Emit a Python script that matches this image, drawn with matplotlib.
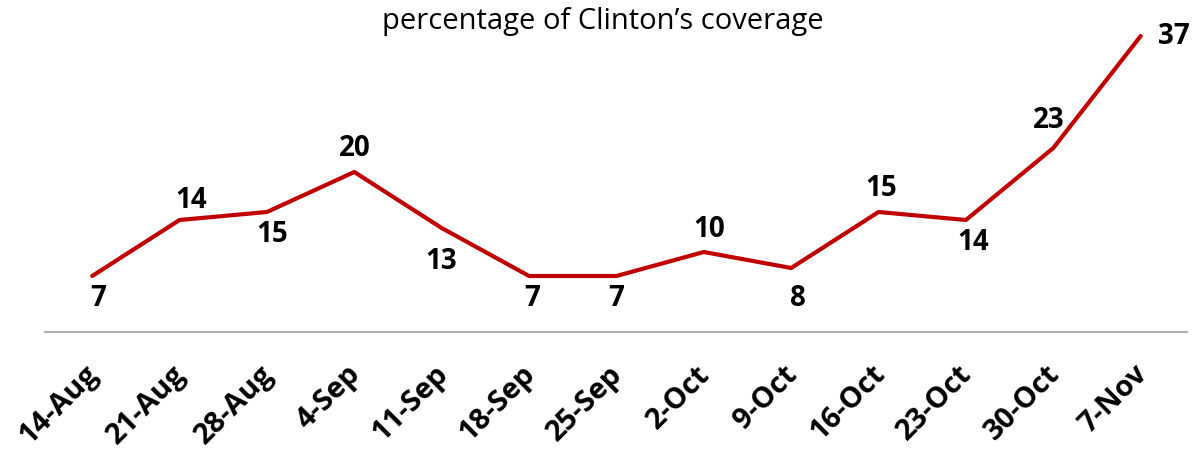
import matplotlib
matplotlib.use("Agg")
import matplotlib.pyplot as plt
import matplotlib.transforms as mtransforms

dates = ["14-Aug", "21-Aug", "28-Aug", "4-Sep", "11-Sep", "18-Sep", "25-Sep",
         "2-Oct", "9-Oct", "16-Oct", "23-Oct", "30-Oct", "7-Nov"]
values = [7, 14, 15, 20, 13, 7, 7, 10, 8, 15, 14, 23, 37]
# label offsets in points (dx, dy)
offsets = [(4, -16), (8, 14), (4, -16), (0, 17), (0, -24), (2, -16), (0, -16),
           (4, 16), (5, -22), (2, 17), (5, -16), (-3, 20), (24, 0)]

plt.rcParams['font.family'] = ['Open Sans', 'DejaVu Sans']

fig = plt.figure(figsize=(11.99, 4.49), dpi=100)
ax = fig.add_axes([45/1199, (449-332)/449, (1187-45)/1199, 312/449])
x = list(range(len(values)))
ax.plot(x, values, color='#C00000', lw=3, solid_joinstyle='round', solid_capstyle='round')
ax.set_xlim(-0.54, 12.53)
ax.set_ylim(0, 39)
for s in ['top', 'right', 'left']:
    ax.spines[s].set_visible(False)
ax.spines['bottom'].set_color('#B0B0B0')
ax.spines['bottom'].set_linewidth(1.5)
ax.set_yticks([])
ax.set_xticks(x)
ax.set_xticklabels(dates, rotation=45, ha='right', rotation_mode='anchor',
                   fontsize=21, fontweight='bold')
ax.tick_params(axis='x', length=0, pad=20)
shift = mtransforms.ScaledTranslation(-6/72, 0, fig.dpi_scale_trans)
for lab in ax.get_xticklabels():
    lab.set_transform(lab.get_transform() + shift)
for xi, v, (dx, dy) in zip(x, values, offsets):
    ax.annotate(str(v), (xi, v), xytext=(dx, dy), textcoords='offset points',
                ha='center', va='center', fontsize=20, fontweight='bold')
fig.text(603/1199, 1 - 22/449, "percentage of Clinton\u2019s coverage", ha='center', va='center',
         fontsize=21)
fig.savefig("out.png", dpi=100)
